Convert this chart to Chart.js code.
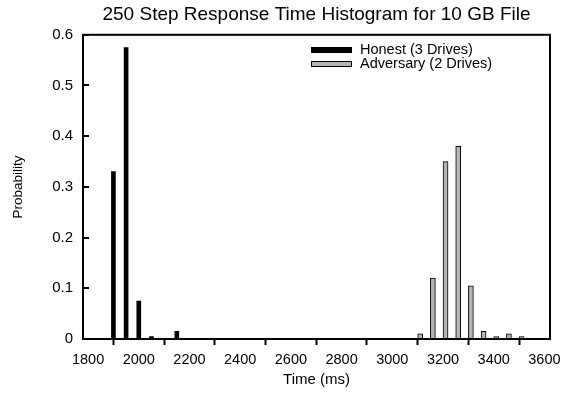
<!DOCTYPE html>
<html>
<head>
<meta charset="utf-8">
<script src="https://cdn.jsdelivr.net/npm/chart.js@4.4.1/dist/chart.umd.min.js"></script>
<style>
  html, body { margin: 0; padding: 0; background: #fff; }
  #wrap { width: 571px; height: 396px; }
</style>
</head>
<body>
<div id="wrap"><canvas id="histChart"></canvas></div>
<script>
// histogram bins (ms) and probabilities
const honestTimes = [1900, 1950, 2000, 2050, 2150];
const honestProb = [0.33, 0.575, 0.075, 0.005, 0.015];
const advTimes = [3110, 3160, 3210, 3260, 3310, 3360, 3410, 3460, 3510];
const advProb = [0.01, 0.12, 0.35, 0.38, 0.105, 0.015, 0.005, 0.01, 0.005];
const xTicks = [1800, 2000, 2200, 2400, 2600, 2800, 3000, 3200, 3400, 3600];
const yTicks = [0, 0.1, 0.2, 0.3, 0.4, 0.5, 0.6];

const GRAY = '#b4b4b4';
const FONT = '"Liberation Sans", Arial, sans-serif';

Chart.defaults.font.family = FONT;
Chart.defaults.color = '#000';

// frame, inward y ticks and the legend inside the plot
const framePlugin = {
  id: 'frame',
  afterDatasetsDraw(chart) {
    const { ctx, chartArea: a, scales } = chart;
    ctx.save();
    ctx.strokeStyle = '#000';
    ctx.lineWidth = 2;
    ctx.strokeRect(a.left, a.top, a.right - a.left, a.bottom - a.top);

    ctx.beginPath();
    scales.y.ticks.forEach(t => {
      const y = Math.round(scales.y.getPixelForValue(t.value));
      ctx.moveTo(a.left, y);
      ctx.lineTo(a.left + 6, y);
    });
    ctx.stroke();

    // legend
    const lx = 311, ly = 47;
    ctx.font = '14.5px ' + FONT;
    ctx.textBaseline = 'middle';
    chart.data.datasets.forEach((ds, i) => {
      const y = ly + i * 14;
      ctx.fillStyle = ds.backgroundColor;
      ctx.fillRect(lx, y, 41, 6);
      ctx.lineWidth = 1;
      ctx.strokeStyle = '#000';
      ctx.strokeRect(lx + 0.5, y + 0.5, 40, 5);
      ctx.fillStyle = '#000';
      ctx.fillText(ds.label, lx + 49, y + 3);
    });
    ctx.restore();
  }
};

new Chart(document.getElementById('histChart'), {
  type: 'bar',
  data: {
    datasets: [{
      label: 'Honest (3 Drives)',
      data: honestTimes.map((t, i) => ({ x: t, y: honestProb[i] })),
      backgroundColor: '#000',
      borderColor: '#000',
      borderWidth: 0,
      barThickness: 4
    }, {
      label: 'Adversary (2 Drives)',
      data: advTimes.map((t, i) => ({ x: t, y: advProb[i] })),
      backgroundColor: GRAY,
      borderColor: '#000',
      borderWidth: 1,
      barThickness: 5
    }]
  },
  options: {
    responsive: true,
    maintainAspectRatio: false,
    animation: false,
    devicePixelRatio: 1,
    grouped: false,
    layout: { padding: { left: 0, right: 21, top: 0, bottom: 0 } },
    plugins: {
      legend: { display: false },
      tooltip: { enabled: false },
      title: {
        display: true,
        fullSize: false,
        text: '250 Step Response Time Histogram for 10 GB File',
        font: { size: 19, weight: 'normal' },
        color: '#000',
        padding: { top: 3, bottom: 9 }
      }
    },
    scales: {
      x: {
        type: 'linear',
        min: 1780,
        max: 3622,
        offset: false,
        afterBuildTicks: s => { s.ticks = xTicks.map(v => ({ value: v })); },
        afterFit: s => { s.height = 57; },
        ticks: { font: { size: 14.5 }, color: '#000', padding: 6, maxRotation: 0,
                 callback: v => String(v) },
        grid: { drawOnChartArea: false, drawTicks: true, tickLength: 6, tickWidth: 2, color: '#000' },
        border: { display: false },
        title: { display: true, text: 'Time (ms)', font: { size: 15 }, padding: { top: 0, bottom: 7 } }
      },
      y: {
        min: 0,
        max: 0.6,
        afterBuildTicks: s => { s.ticks = yTicks.map(v => ({ value: v })); },
        afterFit: s => { s.width = 83; },
        ticks: { font: { size: 15 }, color: '#000', padding: 10, callback: v => String(v) },
        grid: { display: false, drawTicks: false },
        border: { display: false },
        title: { display: true, text: 'Probability', font: { size: 13.5 }, padding: { top: 10, bottom: 0 } }
      }
    }
  },
  plugins: [framePlugin]
});
</script>
</body>
</html>
